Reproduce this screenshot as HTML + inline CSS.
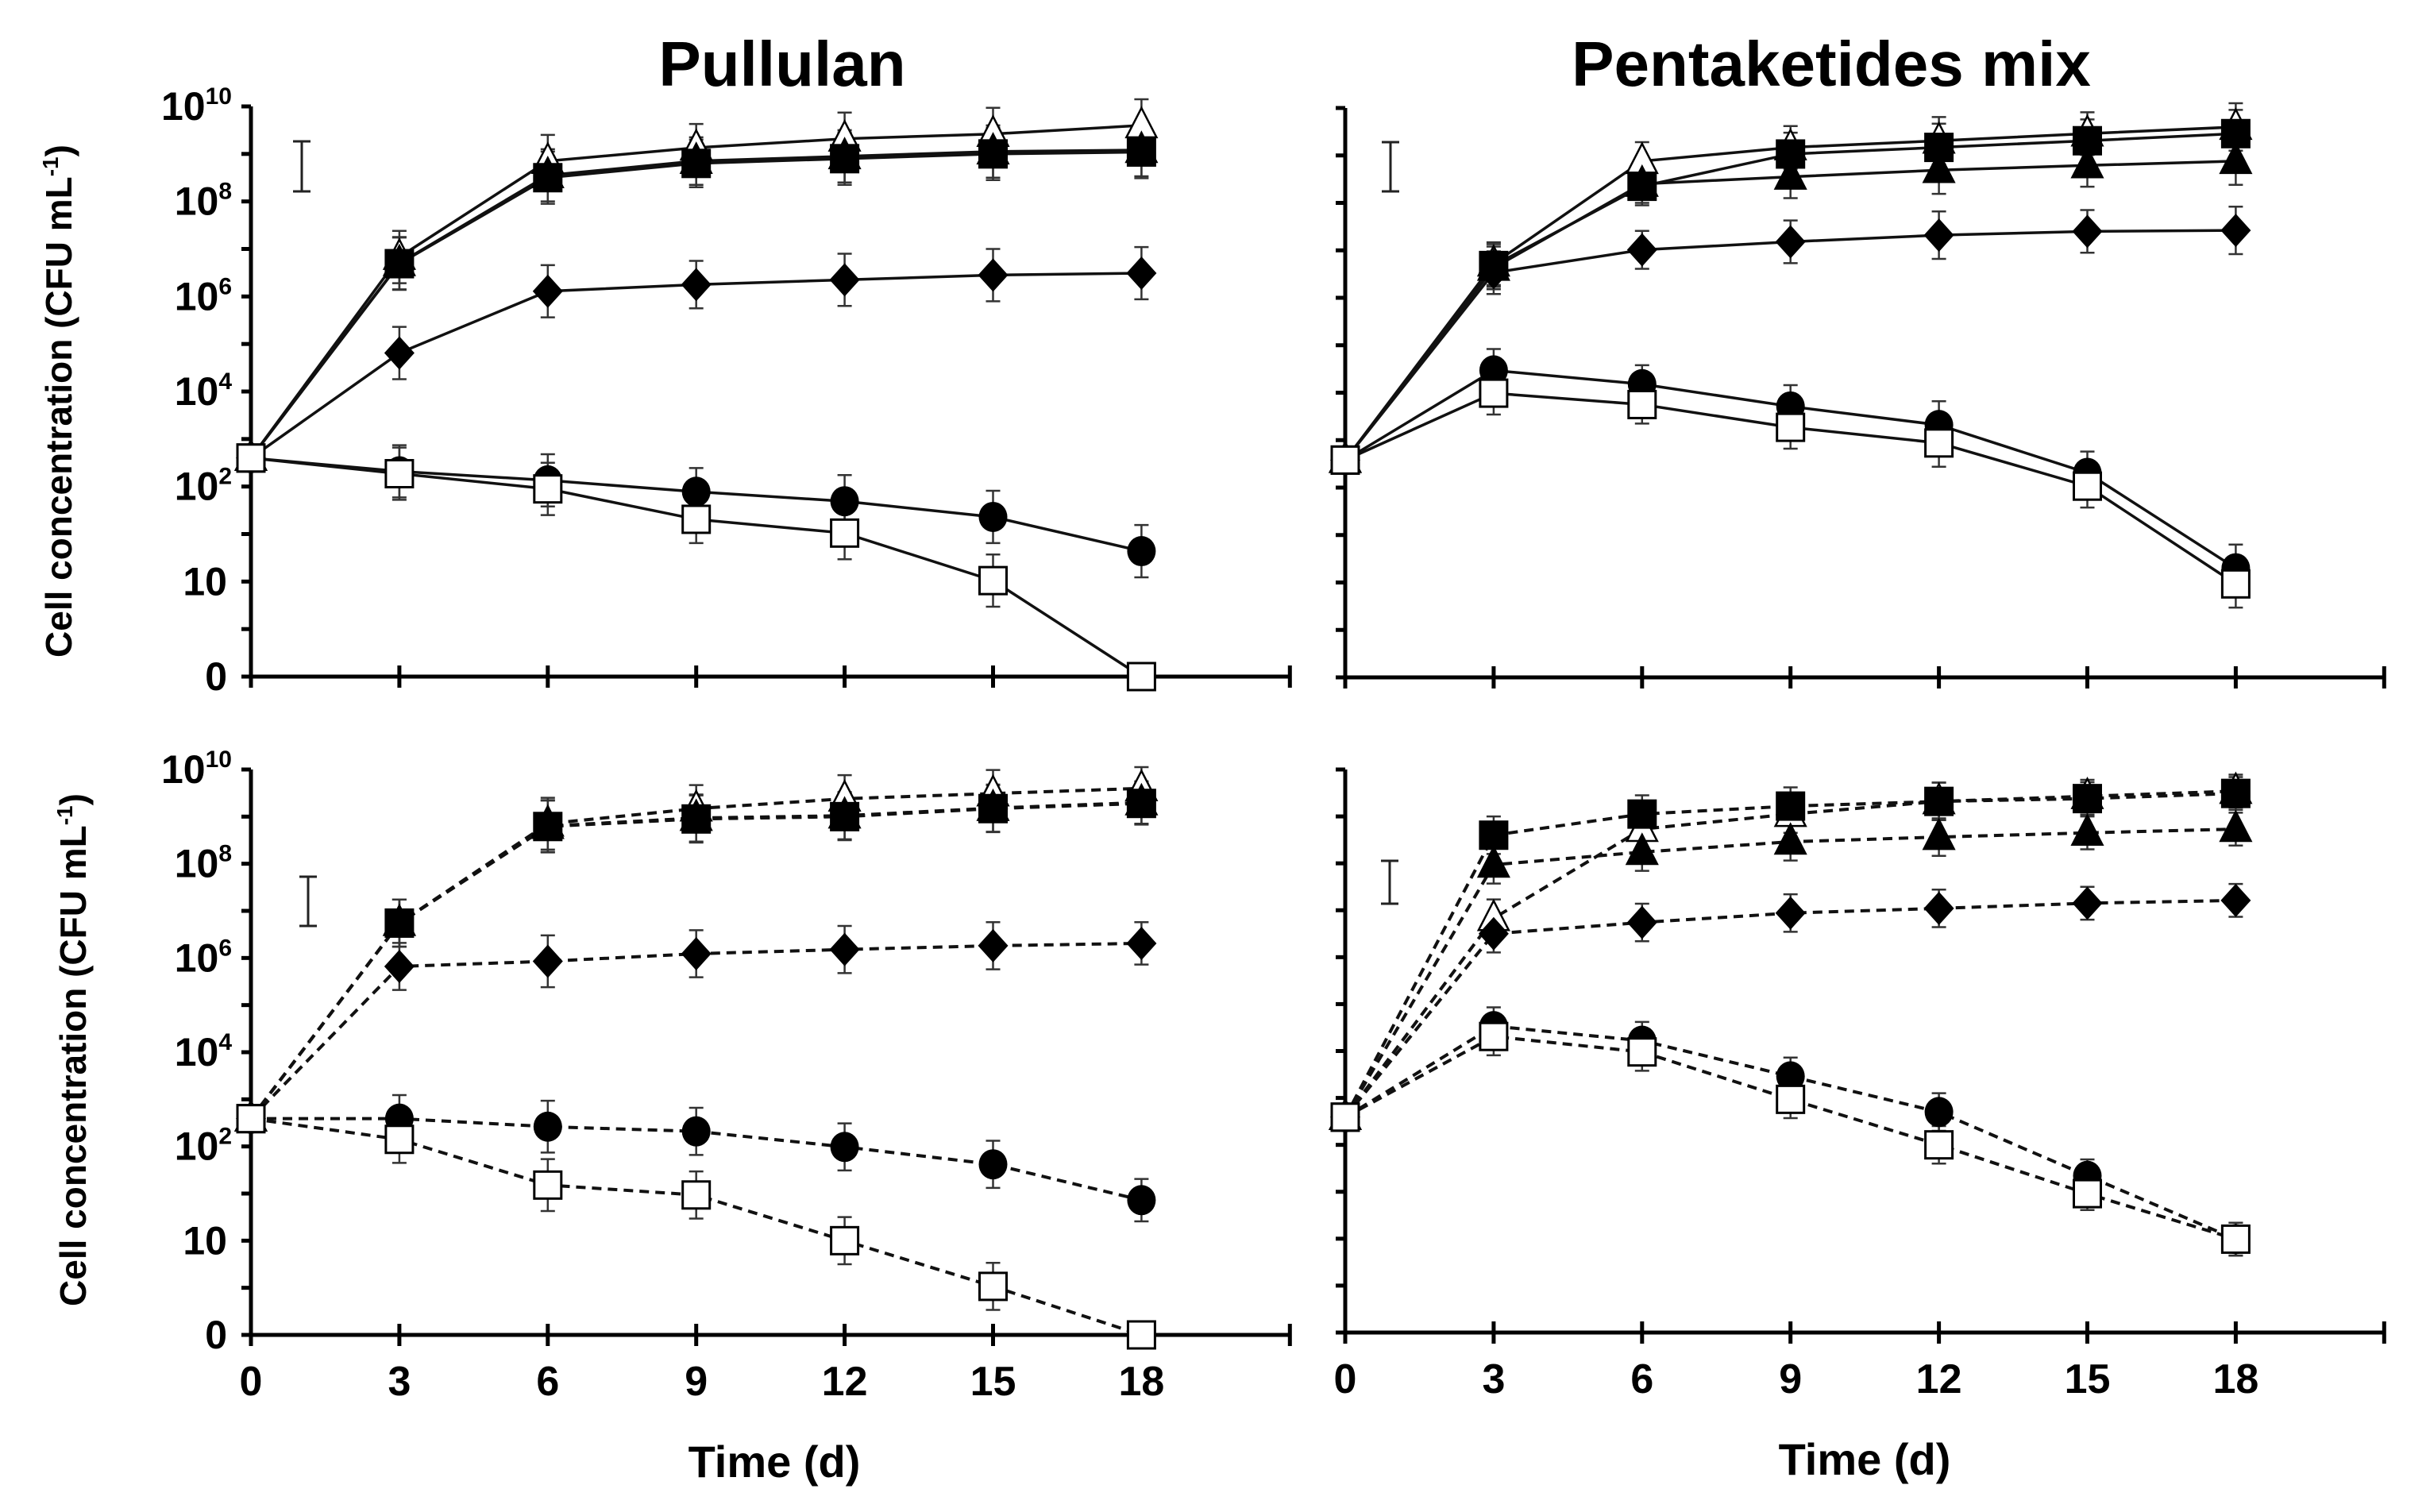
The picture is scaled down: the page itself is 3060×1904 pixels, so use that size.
<!DOCTYPE html>
<html><head><meta charset="utf-8">
<style>
html,body{margin:0;padding:0;background:#fff;}
svg{display:block;font-family:"Liberation Sans",Arial,sans-serif;font-weight:bold;}
</style></head>
<body>
<svg id="chart" width="3060" height="1904" viewBox="0 0 3060 1904" xmlns="http://www.w3.org/2000/svg">
<text x="985" y="108" font-size="80" text-anchor="middle">Pullulan</text>
<text x="2306" y="108" font-size="80" text-anchor="middle">Pentaketides mix</text>
<text transform="translate(90,505) rotate(-90)" font-size="46" text-anchor="middle">Cell concentration (CFU mL<tspan font-size="28" dy="-17">-1</tspan><tspan dy="17">)</tspan></text>
<text transform="translate(108,1322) rotate(-90)" font-size="46" text-anchor="middle">Cell concentration (CFU mL<tspan font-size="28" dy="-17">-1</tspan><tspan dy="17">)</tspan></text>
<text x="975" y="1860" font-size="56" text-anchor="middle">Time (d)</text>
<text x="2348" y="1857" font-size="56" text-anchor="middle">Time (d)</text>
<g id="plots"></g>
</svg>
<script>
// shared axis data
const days = [0, 3, 6, 9, 12, 15, 18];
const xTicks = [0, 3, 6, 9, 12, 15, 18, 21];
const xTickLabels = ["0", "3", "6", "9", "12", "15", "18"];
const yLevels = [0,1,2,3,4,5,6,7,8,9,10,11,12];
const yTickBase = ["0", "10", "10", "10", "10", "10", "10"];
const yTickExp = ["", "", "2", "4", "6", "8", "10"];
const seriesKinds = ["triOpen", "tri", "square", "diamond", "circle", "sqOpen"];

// Panel A: Pullulan, solid
const pA_triOpen = [4.6, 8.83, 10.85, 11.13, 11.32, 11.42, 11.6];
const pA_tri     = [4.6, 8.7, 10.55, 10.85, 10.95, 11.05, 11.08];
const pA_square  = [4.6, 8.69, 10.5, 10.8, 10.9, 11.0, 11.04];
const pA_diamond = [4.6, 6.81, 8.11, 8.25, 8.35, 8.45, 8.49];
const pA_circle  = [4.6, 4.32, 4.13, 3.89, 3.69, 3.36, 2.64];
const pA_sqOpen  = [4.6, 4.27, 3.95, 3.31, 3.02, 2.02, 0];
const pA_err     = [0.3, 0.55, 0.55, 0.5, 0.55, 0.55, 0.55];

// Panel B: Pentaketides, solid
const pB_triOpen = [4.58, 8.72, 10.88, 11.17, 11.31, 11.46, 11.6];
const pB_tri     = [4.58, 8.63, 10.4, 10.55, 10.69, 10.79, 10.88];
const pB_square  = [4.58, 8.68, 10.35, 11.03, 11.17, 11.31, 11.46];
const pB_diamond = [4.58, 8.53, 9.01, 9.18, 9.32, 9.4, 9.42];
const pB_circle  = [4.58, 6.47, 6.18, 5.71, 5.32, 4.31, 2.3];
const pB_sqOpen  = [4.58, 5.99, 5.75, 5.27, 4.94, 4.03, 1.97];
const pB_err     = [0.3, 0.45, 0.4, 0.45, 0.5, 0.45, 0.5];

// Panel C: Pullulan, dashed
const pC_triOpen = [4.59, 8.74, 10.85, 11.17, 11.38, 11.49, 11.6];
const pC_tri     = [4.59, 8.74, 10.8, 10.97, 11.02, 11.18, 11.3];
const pC_square  = [4.59, 8.74, 10.79, 10.95, 11.0, 11.17, 11.28];
const pC_diamond = [4.59, 7.82, 7.93, 8.09, 8.18, 8.26, 8.31];
const pC_circle  = [4.59, 4.59, 4.42, 4.32, 3.99, 3.62, 2.86];
const pC_sqOpen  = [4.59, 4.15, 3.18, 2.97, 2.0, 1.03, 0];
const pC_err     = [0.3, 0.5, 0.55, 0.5, 0.5, 0.5, 0.45];

// Panel D: Pentaketides, dashed
const pD_triOpen = [4.59, 8.83, 10.73, 11.05, 11.32, 11.43, 11.54];
const pD_tri     = [4.59, 9.97, 10.24, 10.46, 10.56, 10.65, 10.73];
const pD_square  = [4.59, 10.6, 11.05, 11.22, 11.32, 11.38, 11.49];
const pD_diamond = [4.59, 8.5, 8.74, 8.94, 9.04, 9.15, 9.21];
const pD_circle  = [4.59, 6.53, 6.22, 5.46, 4.7, 3.34, 1.99];
const pD_sqOpen  = [4.59, 6.31, 5.98, 4.97, 4.0, 2.96, 1.99];
const pD_err     = [0.3, 0.4, 0.4, 0.4, 0.4, 0.35, 0.35];

const NS = "http://www.w3.org/2000/svg";
const root = document.getElementById("plots");
function mk(tag, attrs, parent) {
  const e = document.createElementNS(NS, tag);
  for (const k in attrs) e.setAttribute(k, attrs[k]);
  parent.appendChild(e);
  return e;
}

const panels = [
  {id:"pullulan-solid", x0:316, dayW:62.3, yBase:852, yTop:134, dash:false, labels:true, xLabels:false, bar:[380,178,241],
   data:{triOpen:pA_triOpen, tri:pA_tri, square:pA_square, diamond:pA_diamond, circle:pA_circle, sqOpen:pA_sqOpen}, err:pA_err},
  {id:"pentaketides-solid", x0:1694, dayW:62.3, yBase:853, yTop:136, dash:false, labels:false, xLabels:false, bar:[1751,179,241],
   data:{triOpen:pB_triOpen, tri:pB_tri, square:pB_square, diamond:pB_diamond, circle:pB_circle, sqOpen:pB_sqOpen}, err:pB_err},
  {id:"pullulan-dashed", x0:316, dayW:62.3, yBase:1681, yTop:969, dash:true, labels:true, xLabels:true, bar:[388,1104,1166],
   data:{triOpen:pC_triOpen, tri:pC_tri, square:pC_square, diamond:pC_diamond, circle:pC_circle, sqOpen:pC_sqOpen}, err:pC_err},
  {id:"pentaketides-dashed", x0:1694, dayW:62.3, yBase:1678, yTop:969, dash:true, labels:false, xLabels:true, bar:[1750,1084,1138],
   data:{triOpen:pD_triOpen, tri:pD_tri, square:pD_square, diamond:pD_diamond, circle:pD_circle, sqOpen:pD_sqOpen}, err:pD_err}
];

panels.forEach(p => {
  const g = mk("g", {}, root);
  
  
  const xs = d => p.x0 + d * p.dayW;
  const ys = v => p.yBase - v * (p.yBase - p.yTop) / 12;

  const ax = mk("g", {stroke:"#000", "stroke-width":5, fill:"none"}, g);
  
  
  mk("line", {x1:xs(0), y1:ys(12), x2:xs(0), y2:ys(0)+2}, ax);
  mk("line", {x1:xs(0)-12, y1:ys(0), x2:xs(21), y2:ys(0)}, ax);
  yLevels.forEach(l => mk("line", {x1:xs(0)-12, y1:ys(l), x2:xs(0), y2:ys(l)}, ax));
  xTicks.forEach(d => mk("line", {x1:xs(d), y1:ys(0)-14, x2:xs(d), y2:ys(0)+14}, ax));

  if (p.labels) {
    yTickBase.forEach((b, i) => {
      const t = mk("text", {x:xs(0)-30, y:ys(i*2)+17, "font-size":50, "text-anchor":"end"}, g);
      
      
      t.textContent = b;
      if (yTickExp[i]) {
        const s = mk("tspan", {"font-size":30, dy:-20}, t);
        s.textContent = yTickExp[i];
        t.setAttribute("x", xs(0) - 24);
      }
    });
  }
  if (p.xLabels) {
    xTickLabels.forEach((lab, i) => {
      const t = mk("text", {x:xs(days[i]), y:ys(0)+76, "font-size":52, "text-anchor":"middle"}, g);
      
      
      t.textContent = lab;
    });
  }

  const sb = mk("g", {stroke:"#222", "stroke-width":3}, g);
  
  
  mk("line", {x1:p.bar[0], y1:p.bar[1], x2:p.bar[0], y2:p.bar[2]}, sb);
  mk("line", {x1:p.bar[0]-11, y1:p.bar[1], x2:p.bar[0]+11, y2:p.bar[1]}, sb);
  mk("line", {x1:p.bar[0]-11, y1:p.bar[2], x2:p.bar[0]+11, y2:p.bar[2]}, sb);

  seriesKinds.forEach(k => {
    const vals = p.data[k];
    const pts = vals.map((v, i) => xs(days[i]) + "," + ys(v)).join(" ");
    const pl = mk("polyline", {points:pts, fill:"none", stroke:"#111", "stroke-width":p.dash ? 4 : 3.5}, g);
    if (p.dash) pl.setAttribute("stroke-dasharray", "12 8");
    
    
  });
  seriesKinds.forEach(k => {
    const vals = p.data[k];
    const eg = mk("g", {stroke:"#333", "stroke-width":2.5}, g);
    
    
    vals.forEach((v, i) => {
      if (i === 0 || v <= 0) return;
      const x = xs(days[i]), e = p.err[i];
      mk("line", {x1:x, y1:ys(v+e), x2:x, y2:ys(Math.max(0, v-e))}, eg);
      mk("line", {x1:x-9, y1:ys(v+e), x2:x+9, y2:ys(v+e)}, eg);
      if (v - e > 0) mk("line", {x1:x-9, y1:ys(v-e), x2:x+9, y2:ys(v-e)}, eg);
    });
  });
  seriesKinds.forEach(k => {
    const vals = p.data[k];
    vals.forEach((v, i) => {
      const x = xs(days[i]), y = ys(v);
      let m;
      if (k === "square" || k === "sqOpen") {
        m = mk("rect", {x:x-17, y:y-17, width:34, height:34, fill:k==="square"?"#000":"#fff", stroke:"#000", "stroke-width":3}, g);
      } else if (k === "tri" || k === "triOpen") {
        m = mk("polygon", {points:`${x},${y-22} ${x+19},${y+15} ${x-19},${y+15}`, fill:k==="tri"?"#000":"#fff", stroke:"#000", "stroke-width":2.5}, g);
      } else if (k === "diamond") {
        m = mk("polygon", {points:`${x},${y-21} ${x+19},${y} ${x},${y+21} ${x-19},${y}`, fill:"#000"}, g);
      } else {
        m = mk("ellipse", {cx:x, cy:y, rx:18, ry:19, fill:"#000"}, g);
      }
      
      
    });
  });
});
</script>
</body></html>
